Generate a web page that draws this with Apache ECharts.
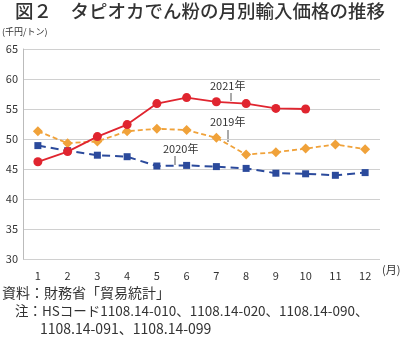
<!DOCTYPE html>
<html><head><meta charset="utf-8">
<script src="https://cdn.jsdelivr.net/npm/echarts@6/dist/echarts.min.js"></script>
<style>html,body{margin:0;padding:0;background:#fff}#c{width:400px;height:338px}</style>
</head><body><div id="c"></div>
<script>
const months = ['1','2','3','4','5','6','7','8','9','10','11','12'];
const s2021 = [46.2, 47.9, 50.4, 52.4, 55.9, 56.9, 56.2, 55.9, 55.1, 55.0, null, null];
const s2019 = [51.3, 49.3, 49.6, 51.3, 51.7, 51.5, 50.2, 47.4, 47.8, 48.4, 49.1, 48.3];
const s2020 = [48.9, 48.05, 47.3, 47.05, 45.5, 45.6, 45.4, 45.1, 44.3, 44.2, 43.95, 44.4];
const yTicks = [30, 35, 40, 45, 50, 55, 60, 65];
const FONT = '"Noto Sans CJK JP", "Noto Sans", sans-serif';

const chart = echarts.init(document.getElementById('c'), null, {renderer:'canvas'});
chart.setOption({
  animation: false,
  textStyle: {fontFamily: FONT},
  grid: {left: 23, right: 20, top: 49, bottom: 79, containLabel: false},
  xAxis: {
    type: 'category', data: months, boundaryGap: true,
    axisLine: {show: false}, axisTick: {show: false},
    axisLabel: {color: '#333', fontSize: 11, margin: 11, fontFamily: FONT}
  },
  yAxis: {
    type: 'value', min: yTicks[0], max: yTicks[yTicks.length-1], interval: 5,
    axisLine: {show: true, lineStyle: {color: '#bbb', width: 1}},
    axisTick: {show: false},
    axisLabel: {color: '#333', fontSize: 11, margin: 5, fontFamily: FONT},
    splitLine: {lineStyle: {color: '#d0d0d0', width: 1}}
  },
  series: [
    {name: '2020年', type: 'line', data: s2020, symbol: 'rect', symbolSize: 7,
     lineStyle: {color: '#2b4a9c', width: 2, type: [8, 5]}, itemStyle: {color: '#2b4a9c'}},
    {name: '2019年', type: 'line', data: s2019, symbol: 'diamond', symbolSize: 10,
     lineStyle: {color: '#f0a23a', width: 1.8, type: [5, 3]}, itemStyle: {color: '#f0a23a'}},
    {name: '2021年', type: 'line', data: s2021, symbol: 'circle', symbolSize: 9,
     lineStyle: {color: '#e0252f', width: 1.8}, itemStyle: {color: '#e0252f'}}
  ],
  graphic: [
    {type: 'text', left: 15, top: 2, style: {text: '図２　タピオカでん粉の月別輸入価格の推移', font: '500 18.5px ' + FONT, fill: '#333'}},
    {type: 'text', left: 2, top: 27, style: {text: '(千円/トン)', font: '9px ' + FONT, fill: '#333'}},
    {type: 'text', left: 382, top: 264, style: {text: '(月)', font: '11px ' + FONT, fill: '#333'}},
    {type: 'text', left: 210, top: 80, style: {text: '2021年', font: '11px ' + FONT, fill: '#333'}},
    {type: 'line', shape: {x1: 231, y1: 93, x2: 231, y2: 101}, style: {stroke: '#555', lineWidth: 1}},
    {type: 'text', left: 210, top: 116, style: {text: '2019年', font: '11px ' + FONT, fill: '#333'}},
    {type: 'line', shape: {x1: 228, y1: 130, x2: 228, y2: 142}, style: {stroke: '#555', lineWidth: 1}},
    {type: 'text', left: 163, top: 143, style: {text: '2020年', font: '11px ' + FONT, fill: '#333'}},
    {type: 'line', shape: {x1: 175, y1: 156, x2: 175, y2: 165}, style: {stroke: '#555', lineWidth: 1}},
    {type: 'text', left: 2, top: 286, style: {text: '資料：財務省「貿易統計」', font: '14px ' + FONT, fill: '#333'}},
    {type: 'text', left: 15, top: 304, style: {text: '注：HSコード1108.14-010、1108.14-020、1108.14-090、', font: '13.5px ' + FONT, fill: '#333'}},
    {type: 'text', left: 40, top: 322, style: {text: '1108.14-091、1108.14-099', font: '14px ' + FONT, fill: '#333'}}
  ]
});
</script></body></html>
